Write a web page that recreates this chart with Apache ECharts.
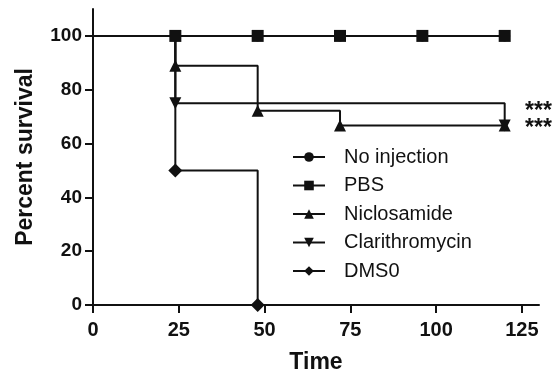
<!DOCTYPE html>
<html>
<head>
<meta charset="utf-8">
<script src="https://cdn.jsdelivr.net/npm/echarts@6/dist/echarts.min.js"></script>
<style>html,body{margin:0;padding:0;background:#fff}#c{width:556px;height:374px}</style>
</head>
<body>
<div id="c"></div>
<script>
const xTicks = [0, 25, 50, 75, 100, 125];
const yTicks = [0, 20, 40, 60, 80, 100];
const seriesNames = ['No injection', 'PBS', 'Niclosamide', 'Clarithromycin', 'DMS0'];
const noInjection = [[0, 100], [24, 100], [48, 100], [72, 100], [96, 100], [120, 100]];
const pbs = [[0, 100], [24, 100], [48, 100], [72, 100], [96, 100], [120, 100]];
const niclosamide = [[0, 100], [24, 88.9], [48, 72.2], [72, 66.7], [120, 66.7]];
const clarithromycin = [[0, 100], [24, 75], [120, 66.7]];
const dmso = [[0, 100], [24, 50], [48, 0]];
const significance = ['***', '***'];

const FONT = 'Liberation Sans, Arial, sans-serif';
const BLACK = '#111';
const chart = echarts.init(document.getElementById('c'), null, {renderer: 'canvas'});

function mk(name, data, symbol, size, rotate) {
  return {
    name: name,
    type: 'line',
    step: 'end',
    data: data,
    symbol: symbol,
    symbolRotate: rotate || 0,
    symbolSize: function (v) { return v[0] === 0 ? 0 : size; },
    showAllSymbol: true,
    clip: false,
    lineStyle: {color: BLACK, width: 2},
    itemStyle: {color: BLACK, borderWidth: 0},
    emphasis: {disabled: true},
    animation: false
  };
}

chart.setOption({
  animation: false,
  grid: {left: 93, right: 17, top: 9, bottom: 69, containLabel: false, outerBoundsMode: 'none'},
  xAxis: {
    type: 'value', min: 0, max: 130,
    name: 'Time', nameLocation: 'middle', nameGap: 46,
    nameTextStyle: {fontFamily: FONT, fontWeight: 'bold', fontSize: 23, color: BLACK},
    axisLine: {show: true, lineStyle: {color: BLACK, width: 2}},
    axisTick: {show: true, length: 8, lineStyle: {color: BLACK, width: 2}, customValues: xTicks},
    axisLabel: {customValues: xTicks, fontFamily: FONT, fontWeight: 'bold', fontSize: 20, color: BLACK, margin: 15},
    splitLine: {show: false}
  },
  yAxis: {
    type: 'value', min: 0, max: 110,
    name: 'Percent survival', nameLocation: 'middle', nameGap: 56,
    nameTextStyle: {fontFamily: FONT, fontWeight: 'bold', fontSize: 23, color: BLACK},
    axisLine: {show: true, lineStyle: {color: BLACK, width: 2}},
    axisTick: {show: true, length: 8, lineStyle: {color: BLACK, width: 2}, customValues: yTicks},
    axisLabel: {customValues: yTicks, fontFamily: FONT, fontWeight: 'bold', fontSize: 19, color: BLACK, margin: 11},
    splitLine: {show: false}
  },
  legend: {
    orient: 'vertical', left: 287, top: 142,
    itemWidth: 32, itemHeight: 12, itemGap: 8.5,
    textStyle: {fontFamily: FONT, fontSize: 20, color: BLACK, padding: [0, 0, 0, 14]},
    data: seriesNames,
    selectedMode: false
  },
  graphic: [
    {type: 'text', left: 525, top: 100, style: {text: significance[0], font: 'bold 23px ' + FONT, fill: BLACK}},
    {type: 'text', left: 525, top: 117, style: {text: significance[1], font: 'bold 23px ' + FONT, fill: BLACK}}
  ],
  series: [
    mk(seriesNames[0], noInjection, 'circle', 11),
    mk(seriesNames[1], pbs, 'rect', 12),
    mk(seriesNames[2], niclosamide, 'triangle', 12),
    mk(seriesNames[3], clarithromycin, 'triangle', 12, 180),
    mk(seriesNames[4], dmso, 'diamond', 14)
  ]
});
</script>
</body>
</html>
